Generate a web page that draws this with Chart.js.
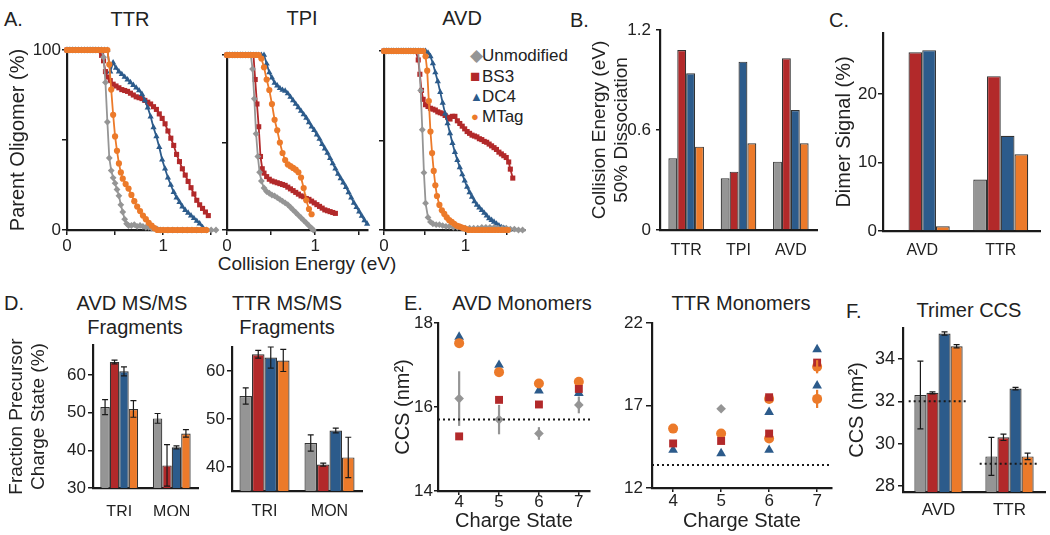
<!DOCTYPE html>
<html>
<head>
<meta charset="utf-8">
<title>Oligomer stability panels</title>
<script src="https://cdn.jsdelivr.net/npm/chart.js@4.4.1/dist/chart.umd.min.js"></script>
<style>
  html, body { margin: 0; padding: 0; background: #fff; }
  #fig { position: relative; width: 1050px; height: 535px; overflow: hidden;
         font-family: 'Liberation Sans', Arial, sans-serif; color: #222; }
  #fig canvas { position: absolute; }
  .c { position: absolute; transform: translate(-50%, -50%); white-space: nowrap; line-height: 1; font-size: 20px; }
  .w { position: absolute; transform: translateY(-50%); white-space: nowrap; line-height: 1; font-size: 20px; }
  .key { font-size: 17px; }
</style>
</head>
<body>
<div id="fig">
  <!-- panel letters and titles -->
  <div class="w" style="left:4px;top:19px">A.</div>
  <div class="c" style="left:130px;top:19px">TTR</div>
  <div class="c" style="left:302px;top:18px">TPI</div>
  <div class="c" style="left:462px;top:18px">AVD</div>
  <div class="c" style="left:307px;top:263px;font-size:19px">Collision Energy (eV)</div>

  <div class="w key" style="left:470px;top:55px;color:#959595">&#9670;</div>
  <div class="w key" style="left:482px;top:55px">Unmodified</div>
  <div class="w key" style="left:470px;top:76px;color:#b2292a">&#9632;</div>
  <div class="w key" style="left:482px;top:76px">BS3</div>
  <div class="w key" style="left:470px;top:96px;color:#2c5b8b;font-size:13px">&#9650;</div>
  <div class="w key" style="left:482px;top:96px">DC4</div>
  <div class="w key" style="left:471px;top:116px;color:#ec7a2a;font-size:13px">&#9679;</div>
  <div class="w key" style="left:482px;top:116px">MTag</div>

  <div class="w" style="left:570px;top:20px">B.</div>
  <div class="w" style="left:829px;top:20px">C.</div>

  <div class="w" style="left:4px;top:303px">D.</div>
  <div class="c" style="left:132px;top:303px">AVD MS/MS</div>
  <div class="c" style="left:135px;top:327px">Fragments</div>
  <div class="c" style="left:287px;top:303px">TTR MS/MS</div>
  <div class="c" style="left:287px;top:327px">Fragments</div>

  <div class="w" style="left:404px;top:303px">E.</div>
  <div class="c" style="left:522px;top:303px">AVD Monomers</div>
  <div class="c" style="left:741px;top:303px">TTR Monomers</div>

  <div class="w" style="left:846px;top:311px">F.</div>
  <div class="c" style="left:969px;top:310px">Trimer CCS</div>

  <canvas id="aTTR"></canvas>
  <canvas id="aTPI"></canvas>
  <canvas id="aAVD"></canvas>
  <canvas id="bDissoc"></canvas>
  <canvas id="cDimer"></canvas>
  <canvas id="dAVD"></canvas>
  <canvas id="dTTR"></canvas>
  <canvas id="eAVD"></canvas>
  <canvas id="eTTR"></canvas>
  <canvas id="fTrimer"></canvas>
</div>

<script>
/* ===============================
   DATA
================================ */

// A. collision induced unfolding curves: [energy eV, parent oligomer %]
const ttrUnmod = [[0,100],[0.03,100],[0.06,100],[0.09,100],[0.12,100],[0.15,100],[0.18,100],[0.21,100],[0.24,100],[0.27,100],[0.30,100],[0.33,100],[0.36,100],[0.38,96],[0.40,82],[0.42,60],[0.44,40],[0.46,33],[0.48,29],[0.50,26],[0.52,22.5],[0.54,19],[0.56,14],[0.58,10],[0.60,6],[0.62,3.5],[0.64,2.5],[0.67,2.5],[0.70,3],[0.73,2],[0.76,2.5],[0.79,2],[0.82,1.5],[0.85,1.5],[0.88,1],[0.91,1],[0.94,0.5],[0.97,0],[1.00,0],[1.05,0],[1.10,0],[1.15,0],[1.20,0],[1.25,0],[1.30,0],[1.35,0],[1.40,0],[1.45,0],[1.50,0],[1.55,0]];
const ttrBS3 = [[0,100],[0.03,100],[0.06,100],[0.09,100],[0.12,100],[0.15,100],[0.18,100],[0.21,100],[0.24,100],[0.27,100],[0.30,100],[0.33,100],[0.36,97],[0.38,94],[0.40,88],[0.42,85],[0.45,83],[0.48,81],[0.51,80],[0.54,79],[0.57,78],[0.60,77.5],[0.63,77],[0.66,76],[0.69,75],[0.72,74],[0.75,73.5],[0.78,73],[0.81,72],[0.84,71],[0.87,70],[0.90,68.5],[0.93,67],[0.96,64.5],[0.99,62],[1.02,59],[1.05,55],[1.08,51],[1.11,47],[1.14,42],[1.17,38],[1.20,34],[1.23,30.5],[1.26,27],[1.29,23.5],[1.32,20],[1.35,16.5],[1.38,14],[1.41,12],[1.44,10],[1.47,8]];
const ttrDC4 = [[0,100],[0.03,100],[0.06,100],[0.09,100],[0.12,100],[0.15,100],[0.18,100],[0.21,100],[0.24,100],[0.27,100],[0.30,100],[0.33,100],[0.36,100],[0.39,100],[0.42,100],[0.45,88],[0.48,93],[0.51,90],[0.54,88],[0.57,86.5],[0.60,85],[0.63,83.5],[0.66,82],[0.69,80.5],[0.72,79],[0.75,77.5],[0.78,75.5],[0.81,72],[0.84,68],[0.87,63],[0.90,57],[0.93,52],[0.96,46],[0.99,39],[1.02,34],[1.05,29],[1.08,25],[1.11,21],[1.14,18],[1.17,15.5],[1.20,13],[1.23,11],[1.26,9.5],[1.29,8],[1.32,6.5],[1.35,5],[1.38,3.5],[1.41,1.5],[1.43,0]];
const ttrMTag = [[0,100],[0.03,100],[0.06,100],[0.09,100],[0.12,100],[0.15,100],[0.18,100],[0.21,100],[0.24,100],[0.27,100],[0.30,100],[0.33,100],[0.36,100],[0.39,100],[0.42,100],[0.44,92],[0.46,78],[0.48,64],[0.50,52],[0.52,44],[0.54,37],[0.56,32],[0.58,28.5],[0.61,25.5],[0.64,23],[0.67,19.5],[0.70,16],[0.73,13],[0.76,10.5],[0.79,8],[0.82,6],[0.85,4],[0.88,2.5],[0.91,1],[0.94,0],[0.97,0],[1.00,0],[1.03,0],[1.06,0],[1.09,0],[1.12,0],[1.15,0],[1.18,0],[1.21,0],[1.24,0],[1.27,0],[1.30,0],[1.33,0],[1.36,0],[1.39,0],[1.42,0],[1.45,0]];

const tpiUnmod = [[0,100],[0.03,100],[0.06,100],[0.09,100],[0.12,100],[0.15,100],[0.18,100],[0.21,100],[0.24,100],[0.27,100],[0.29,92],[0.31,75],[0.33,55],[0.35,42],[0.37,33],[0.39,28],[0.42,24],[0.45,22],[0.48,21],[0.51,20],[0.54,19.5],[0.57,18.5],[0.60,17.5],[0.63,16.5],[0.66,15.5],[0.69,14.5],[0.72,13],[0.75,11.5],[0.78,10],[0.81,8.5],[0.84,7],[0.87,5.5],[0.90,4],[0.93,2.5],[0.96,1],[0.98,0]];
const tpiBS3 = [[0,100],[0.03,100],[0.06,100],[0.09,100],[0.12,100],[0.15,100],[0.18,100],[0.21,100],[0.24,100],[0.27,100],[0.30,100],[0.32,86],[0.34,72],[0.36,59],[0.38,42],[0.40,35],[0.42,32.5],[0.45,30.5],[0.48,29],[0.51,28],[0.54,27.5],[0.57,27],[0.60,26.5],[0.63,26],[0.66,25.5],[0.69,24.5],[0.72,23.5],[0.75,22.5],[0.78,21.5],[0.81,20.5],[0.84,19.5],[0.87,19],[0.90,18],[0.93,17.5],[0.96,16.5],[0.99,15.5],[1.02,14.5],[1.05,13.5],[1.08,12.5],[1.11,11.5],[1.14,11],[1.17,10.5],[1.20,10],[1.23,9.5]];
const tpiDC4 = [[0,100],[0.03,100],[0.06,100],[0.09,100],[0.12,100],[0.15,100],[0.18,100],[0.21,100],[0.24,100],[0.27,100],[0.30,100],[0.33,100],[0.36,100],[0.39,100],[0.42,100],[0.45,95],[0.48,90],[0.51,87],[0.54,84],[0.57,82.5],[0.60,81],[0.63,80],[0.66,79.5],[0.69,78],[0.72,76],[0.75,74],[0.78,72],[0.81,70],[0.84,68],[0.87,66],[0.90,64],[0.93,61.5],[0.96,59],[0.99,57],[1.02,54.5],[1.05,52],[1.08,49],[1.11,46.5],[1.14,44],[1.17,41],[1.20,38],[1.23,35],[1.26,32],[1.29,29.5],[1.32,27],[1.35,24.5],[1.38,21.5],[1.41,18.5],[1.44,15.5],[1.47,13],[1.50,10.5],[1.53,8],[1.56,5.5],[1.59,3.5]];
const tpiMTag = [[0,100],[0.03,100],[0.06,100],[0.09,100],[0.12,100],[0.15,100],[0.18,100],[0.21,100],[0.24,100],[0.27,100],[0.30,100],[0.33,100],[0.36,100],[0.39,98],[0.42,93],[0.45,86],[0.48,80],[0.51,72],[0.54,63],[0.57,57],[0.60,50],[0.63,44],[0.66,40],[0.69,37.5],[0.72,36.5],[0.75,35.5],[0.78,34.5],[0.81,33],[0.84,30],[0.87,24],[0.90,17],[0.93,12],[0.96,9]];

const avdUnmod = [[0,100],[0.03,100],[0.06,100],[0.09,100],[0.12,100],[0.15,100],[0.18,100],[0.21,100],[0.24,100],[0.27,100],[0.30,100],[0.33,100],[0.36,100],[0.39,100],[0.42,100],[0.45,78],[0.47,56],[0.49,32],[0.51,15],[0.54,7],[0.57,4.5],[0.60,3.5],[0.64,3],[0.68,3],[0.72,2.5],[0.76,2],[0.80,2],[0.85,1.5],[0.90,1.5],[0.95,1.5],[1.00,1],[1.05,1],[1.10,1],[1.15,1],[1.20,1.5],[1.25,1.5],[1.30,1.5],[1.35,1.5],[1.40,1],[1.45,1],[1.50,1],[1.55,0.5],[1.60,0.5],[1.65,0],[1.70,0]];
const avdBS3 = [[0,100],[0.03,100],[0.06,100],[0.09,100],[0.12,100],[0.15,100],[0.18,100],[0.21,100],[0.24,100],[0.27,100],[0.30,100],[0.33,100],[0.36,100],[0.39,100],[0.42,95],[0.44,87],[0.46,78],[0.48,73],[0.51,70],[0.54,69],[0.57,68],[0.60,67.5],[0.63,67],[0.66,66],[0.69,65.5],[0.72,65],[0.75,64],[0.78,63],[0.81,62],[0.84,63.5],[0.87,63.5],[0.90,61],[0.93,59.5],[0.96,58],[0.99,56.5],[1.02,55],[1.05,54],[1.08,53],[1.11,52.5],[1.14,52],[1.17,51],[1.20,50.5],[1.23,49.5],[1.26,49],[1.29,48],[1.32,47],[1.35,46],[1.38,45],[1.41,43.5],[1.44,42.5],[1.47,41.5],[1.50,40.5],[1.53,38],[1.55,34],[1.58,29]];
const avdDC4 = [[0,100],[0.03,100],[0.06,100],[0.09,100],[0.12,100],[0.15,100],[0.18,100],[0.21,100],[0.24,100],[0.27,100],[0.30,100],[0.33,100],[0.36,100],[0.39,100],[0.42,100],[0.45,100],[0.48,100],[0.51,100],[0.54,99],[0.57,97],[0.60,93],[0.63,88],[0.66,83],[0.69,77],[0.72,71],[0.75,65],[0.78,59.5],[0.81,54],[0.84,48.5],[0.87,43.5],[0.90,39],[0.93,35],[0.96,31],[0.99,27.5],[1.02,24],[1.05,21],[1.08,18.5],[1.11,16],[1.14,14],[1.17,12.5],[1.20,11],[1.23,9.5],[1.26,8],[1.29,6.5],[1.32,5.5],[1.35,4.5],[1.38,3.5],[1.41,2.5],[1.44,1.5],[1.47,1],[1.50,0.5],[1.53,0]];
const avdMTag = [[0,100],[0.03,100],[0.06,100],[0.09,100],[0.12,100],[0.15,100],[0.18,100],[0.21,100],[0.24,100],[0.27,100],[0.30,100],[0.33,100],[0.36,100],[0.39,100],[0.42,100],[0.45,100],[0.48,100],[0.51,97],[0.53,89],[0.55,72],[0.57,55],[0.59,43],[0.61,33],[0.63,25],[0.65,19],[0.68,14],[0.71,11],[0.74,9],[0.77,7],[0.80,5.5],[0.83,4.5],[0.86,3.5],[0.89,2.5],[0.92,2],[0.95,1.5],[0.98,1],[1.01,0.5],[1.04,0],[1.08,0],[1.12,0],[1.16,0],[1.20,0],[1.24,0],[1.28,0],[1.32,0],[1.36,0],[1.40,0],[1.44,0],[1.48,0],[1.52,0]];

const energyTicks = [0, 0.5, 1, 1.5];
const energyLabelled = [0, 1];
const percentTicks = [0, 50, 100];

// B. collision energy at 50% dissociation (eV)
const dissocCats = ['TTR', 'TPI', 'AVD'];
const dissocUnmod = [0.43, 0.31, 0.41];
const dissocBS3 = [1.08, 0.35, 1.03];
const dissocDC4 = [0.94, 1.01, 0.72];
const dissocMTag = [0.50, 0.52, 0.52];
const dissocTicks = [0, 0.6, 1.2];

// C. dimer signal (%)
const dimerCats = ['AVD', 'TTR'];
const dimerUnmod = [0, 7.5];
const dimerBS3 = [26.1, 22.6];
const dimerDC4 = [26.4, 13.9];
const dimerMTag = [0.7, 11.2];
const dimerTicks = [0, 10, 20];

// D. MS/MS fragments, fraction precursor charge state (%)
const fragCats = ['TRI', 'MON'];
const avdFragUnmod = [51.5, 48.5], avdFragUnmodErr = [2.0, 1.3];
const avdFragBS3 = [63.5, 36.0], avdFragBS3Err = [0.5, 5.5];
const avdFragDC4 = [61.0, 40.8], avdFragDC4Err = [1.2, 0.4];
const avdFragMTag = [51.0, 44.5], avdFragMTagErr = [2.2, 1.0];
const avdFragTicks = [30, 40, 50, 60];
const ttrFragUnmod = [54.8, 45.0], ttrFragUnmodErr = [1.7, 1.7];
const ttrFragBS3 = [63.5, 40.5], ttrFragBS3Err = [0.8, 0.3];
const ttrFragDC4 = [62.8, 47.6], ttrFragDC4Err = [2.2, 0.5];
const ttrFragMTag = [62.2, 42.0], ttrFragMTagErr = [2.3, 4.2];
const ttrFragTicks = [40, 50, 60];

// E. monomer CCS (nm2) by charge state
const chargeTicks = [4, 5, 6, 7];
const avdCharge = [4, 5, 6, 7];
const avdMonoUnmod = [16.2, 15.7, 15.37, 16.05], avdMonoUnmodErr = [0.65, 0.35, 0.15, 0.2];
const avdMonoBS3 = [15.3, 16.17, 16.06, 16.43];
const avdMonoDC4 = [17.67, 17.0, 16.39, 16.33];
const avdMonoMTag = [17.52, 16.83, 16.56, 16.6];
const avdMonoRef = [15.7];
const avdMonoTicks = [14, 16, 18];

const ttrChargeUnmod = [5], ttrMonoUnmod = [16.8];
const ttrChargeBS3 = [4, 5, 6, 6, 7], ttrMonoBS3 = [14.7, 14.85, 17.5, 15.3, 19.6];
const ttrChargeDC4 = [4, 5, 6, 6, 7, 7], ttrMonoDC4 = [14.3, 14.1, 16.6, 14.3, 20.4, 18.2];
const ttrChargeMTag = [4, 5, 6, 6, 7, 7], ttrMonoMTag = [15.6, 15.3, 17.4, 15.0, 19.35, 17.4];
const ttrMonoMTagErr = [0, 0, 0, 0, 0.4, 0.55];
const ttrMonoRef = [13.4];
const ttrMonoTicks = [12, 17, 22];

// F. trimer CCS (nm2)
const trimerCats = ['AVD', 'TTR'];
const trimerUnmod = [32.3, 29.4], trimerUnmodErr = [1.6, 0.9];
const trimerBS3 = [32.4, 30.3], trimerBS3Err = [0.05, 0.15];
const trimerDC4 = [35.2, 32.6], trimerDC4Err = [0.08, 0.06];
const trimerMTag = [34.6, 29.4], trimerMTagErr = [0.08, 0.15];
const trimerRef = [32.0, 29.05];
const trimerTicks = [28, 30, 32, 34];

/* ===============================
   STYLE + PLUGINS
================================ */

const colors = { unmod: '#959595', bs3: '#b2292a', dc4: '#2c5b8b', mtag: '#ec7a2a' };
const ink = '#1a1a1a';

Chart.defaults.font.family = "'Liberation Sans', Arial, sans-serif";
Chart.defaults.color = '#222';
Chart.defaults.animation = false;
Chart.defaults.responsive = false;
Chart.defaults.plugins.legend.display = false;
Chart.defaults.plugins.tooltip.enabled = false;

// vertical error bars from dataset.errors, drawn through the y scale
const errorBars = {
  id: 'errorBars',
  afterDatasetsDraw(chart) {
    const ctx = chart.ctx;
    const yScale = chart.scales.y;
    chart.data.datasets.forEach((ds, i) => {
      if (!ds.errors) return;
      const meta = chart.getDatasetMeta(i);
      ctx.save();
      ctx.strokeStyle = ds.errorColor || ink;
      ctx.lineWidth = ds.errorWidth || 1.2;
      meta.data.forEach((el, j) => {
        const e = ds.errors[j];
        if (!e) return;
        const raw = ds.data[j];
        const v = typeof raw === 'object' ? raw.y : raw;
        const top = yScale.getPixelForValue(v + e);
        const bot = yScale.getPixelForValue(v - e);
        const cap = ds.errorCap || 0;
        ctx.beginPath();
        ctx.moveTo(el.x, top);
        ctx.lineTo(el.x, bot);
        if (cap) {
          ctx.moveTo(el.x - cap, top); ctx.lineTo(el.x + cap, top);
          ctx.moveTo(el.x - cap, bot); ctx.lineTo(el.x + cap, bot);
        }
        ctx.stroke();
      });
      ctx.restore();
    });
  }
};

// dotted reference lines (whole plot, or one per category)
const refLines = {
  id: 'refLines',
  afterDatasetsDraw(chart, args, opts) {
    if (!opts.values) return;
    const { ctx, chartArea } = chart;
    const xs = chart.scales.x, ys = chart.scales.y;
    ctx.save();
    ctx.setLineDash([2, 3]);
    ctx.lineWidth = 2;
    ctx.strokeStyle = ink;
    opts.values.forEach((v, i) => {
      const py = ys.getPixelForValue(v);
      let x0 = chartArea.left, x1 = chartArea.right;
      if (opts.spread) {
        const c = xs.getPixelForValue(i);
        const half = (chartArea.right - chartArea.left) / opts.values.length * opts.spread;
        x0 = c - half; x1 = c + half;
      }
      ctx.beginPath();
      ctx.moveTo(x0, py);
      ctx.lineTo(x1, py);
      ctx.stroke();
    });
    ctx.restore();
  }
};

Chart.register(errorBars, refLines);

/* ===============================
   HELPERS
================================ */

// area = wanted plot box in page pixels, m = room around it for axes
function makeChart(id, area, m, config) {
  const canvas = document.getElementById(id);
  canvas.width = area.r - area.l + m.l + m.r;
  canvas.height = area.b - area.t + m.t + m.b;
  canvas.style.left = (area.l - m.l) + 'px';
  canvas.style.top = (area.t - m.t) + 'px';
  const o = config.options;
  o.layout = { padding: { left: 0, top: m.t, right: m.r, bottom: 0 } };
  o.scales.x.afterFit = s => { s.height = m.b; };
  o.scales.y.afterFit = s => { s.width = m.l; };
  return new Chart(canvas, config);
}

function valueAxis(o) {
  return {
    type: 'linear',
    min: o.min,
    max: o.max,
    afterBuildTicks: s => { s.ticks = o.ticks.map(v => ({ value: v })); },
    ticks: {
      color: '#222', font: { size: o.font || 17 }, padding: o.pad,
      autoSkip: false, maxRotation: 0,
      callback: o.label || (v => v)
    },
    grid: { display: true, drawOnChartArea: false, drawTicks: true, tickLength: o.len, color: ink, lineWidth: 1.5 },
    border: { display: true, color: ink, width: 2.2 },
    title: o.title
      ? { display: true, text: o.title, color: '#222', font: { size: o.titleSize || 20 }, padding: o.titlePad }
      : { display: false }
  };
}

function catAxis(o) {
  return {
    type: 'category',
    offset: true,
    ticks: { color: '#222', font: { size: o.font || 16 }, padding: o.pad, autoSkip: false, maxRotation: 0 },
    grid: { display: false },
    border: { display: true, color: ink, width: 2.2 }
  };
}

function curve(pts, color, style, radius, order) {
  return {
    data: pts.map(p => ({ x: p[0], y: p[1] })),
    borderColor: color,
    borderWidth: 1.8,
    pointBackgroundColor: color,
    pointBorderColor: color,
    pointBorderWidth: 0,
    pointStyle: style,
    pointRadius: radius,
    tension: 0,
    clip: false,
    order
  };
}

function cieChart(id, area, marginLeft, sets, opts) {
  return makeChart(id, area, { l: marginLeft, t: 16, r: 10, b: 28 }, {
    type: 'line',
    data: {
      datasets: [
        curve(sets[0], colors.unmod, 'rectRot', 3.4, 1),
        curve(sets[1], colors.bs3, 'rect', 3.6, 3),
        curve(sets[2], colors.dc4, 'triangle', 3.6, 2),
        curve(sets[3], colors.mtag, 'circle', 3.1, 0)
      ]
    },
    options: {
      scales: {
        x: valueAxis({ min: 0, max: opts.xMax, ticks: energyTicks, len: 5, pad: 1,
          label: v => energyLabelled.includes(v) ? String(v) : '' }),
        y: valueAxis({ min: 0, max: 100, ticks: percentTicks, len: 5, pad: 1,
          label: opts.yLabels ? (v => v === 50 ? '' : v) : () => '',
          title: opts.yTitle, titlePad: { top: 6 } })
      }
    }
  });
}

function barSet(data, color, pct, errors) {
  return {
    data,
    backgroundColor: color,
    borderColor: '#333',
    borderWidth: 1.2,
    barPercentage: 1,
    categoryPercentage: pct,
    errors,
    errorCap: 3
  };
}

function points(xs, ys, color, style, radius, errors) {
  return {
    data: xs.map((x, i) => ({ x, y: ys[i] })),
    backgroundColor: color,
    borderColor: color,
    borderWidth: 0,
    pointStyle: style,
    pointRadius: radius,
    clip: false,
    errors,
    errorColor: color,
    errorWidth: 2.2
  };
}

/* ===============================
   A. UNFOLDING CURVES
================================ */

cieChart('aTTR', { l: 67, t: 50, r: 216, b: 230 }, 67,
  [ttrUnmod, ttrBS3, ttrDC4, ttrMTag],
  { xMax: 1.55, yLabels: true, yTitle: 'Parent Oligomer (%)' });

cieChart('aTPI', { l: 227, t: 55, r: 368, b: 230 }, 8,
  [tpiUnmod, tpiBS3, tpiDC4, tpiMTag],
  { xMax: 1.6, yLabels: false });

cieChart('aAVD', { l: 384, t: 51, r: 525, b: 230 }, 8,
  [avdUnmod, avdBS3, avdDC4, avdMTag],
  { xMax: 1.73, yLabels: false });

/* ===============================
   B. 50% DISSOCIATION
================================ */

makeChart('bDissoc', { l: 660, t: 30, r: 817, b: 230 }, { l: 80, t: 16, r: 8, b: 26 }, {
  type: 'bar',
  data: {
    labels: dissocCats,
    datasets: [
      barSet(dissocUnmod, colors.unmod, 0.68),
      barSet(dissocBS3, colors.bs3, 0.68),
      barSet(dissocDC4, colors.dc4, 0.68),
      barSet(dissocMTag, colors.mtag, 0.68)
    ]
  },
  options: {
    scales: {
      x: catAxis({ pad: 3, font: 16 }),
      y: valueAxis({ min: 0, max: 1.2, ticks: dissocTicks, len: 4, pad: 5,
        label: v => v === 0 ? '0' : v.toFixed(1),
        title: ['Collision Energy (eV)', '50% Dissociation'], titleSize: 19, titlePad: { top: 8 } })
    }
  }
});

/* ===============================
   C. DIMER SIGNAL
================================ */

makeChart('cDimer', { l: 883, t: 33, r: 1040, b: 231 }, { l: 55, t: 16, r: 8, b: 26 }, {
  type: 'bar',
  data: {
    labels: dimerCats,
    datasets: [
      barSet(dimerUnmod, colors.unmod, 0.7),
      barSet(dimerBS3, colors.bs3, 0.7),
      barSet(dimerDC4, colors.dc4, 0.7),
      barSet(dimerMTag, colors.mtag, 0.7)
    ]
  },
  options: {
    scales: {
      x: catAxis({ pad: 2, font: 16 }),
      y: valueAxis({ min: 0, max: 28.9, ticks: dimerTicks, len: 5, pad: 1,
        title: 'Dimer Signal (%)', titlePad: { top: 4 } })
    }
  }
});

/* ===============================
   D. MS/MS FRAGMENTS
================================ */

makeChart('dAVD', { l: 93, t: 345, r: 198, b: 488 }, { l: 93, t: 16, r: 6, b: 28 }, {
  type: 'bar',
  data: {
    labels: fragCats,
    datasets: [
      barSet(avdFragUnmod, colors.unmod, 0.72, avdFragUnmodErr),
      barSet(avdFragBS3, colors.bs3, 0.72, avdFragBS3Err),
      barSet(avdFragDC4, colors.dc4, 0.72, avdFragDC4Err),
      barSet(avdFragMTag, colors.mtag, 0.72, avdFragMTagErr)
    ]
  },
  options: {
    scales: {
      x: catAxis({ pad: 7, font: 16 }),
      y: valueAxis({ min: 30, max: 68, ticks: avdFragTicks, len: 5, pad: 2, font: 17,
        title: ['Fraction Precursor', 'Charge State (%)'], titleSize: 19, titlePad: { top: 5 } })
    }
  }
});

makeChart('dTTR', { l: 232, t: 347, r: 362, b: 491 }, { l: 32, t: 16, r: 8, b: 28 }, {
  type: 'bar',
  data: {
    labels: fragCats,
    datasets: [
      barSet(ttrFragUnmod, colors.unmod, 0.77, ttrFragUnmodErr),
      barSet(ttrFragBS3, colors.bs3, 0.77, ttrFragBS3Err),
      barSet(ttrFragDC4, colors.dc4, 0.77, ttrFragDC4Err),
      barSet(ttrFragMTag, colors.mtag, 0.77, ttrFragMTagErr)
    ]
  },
  options: {
    scales: {
      x: catAxis({ pad: 3, font: 16 }),
      y: valueAxis({ min: 35, max: 65, ticks: ttrFragTicks, len: 5, pad: 2, font: 17 })
    }
  }
});

/* ===============================
   E. MONOMER CCS
================================ */

function chargeAxis(min, max, pad) {
  const ax = valueAxis({ min, max, ticks: chargeTicks, len: 4, pad, font: 17 });
  ax.title = { display: true, text: 'Charge State', color: '#222', font: { size: 20 }, padding: { top: 0, bottom: 0 } };
  return ax;
}

makeChart('eAVD', { l: 438, t: 323, r: 590, b: 491 }, { l: 53, t: 16, r: 8, b: 42 }, {
  type: 'scatter',
  data: {
    datasets: [
      points(avdCharge, avdMonoUnmod, colors.unmod, 'rectRot', 4.8, avdMonoUnmodErr),
      points(avdCharge, avdMonoBS3, colors.bs3, 'rect', 5.6),
      points(avdCharge, avdMonoMTag, colors.mtag, 'circle', 5),
      points(avdCharge, avdMonoDC4, colors.dc4, 'triangle', 5.6)
    ]
  },
  options: {
    plugins: { refLines: { values: avdMonoRef } },
    scales: {
      x: chargeAxis(3.47, 7.28, -3),
      y: valueAxis({ min: 14, max: 18, ticks: avdMonoTicks, len: 4, pad: 1,
        title: 'CCS (nm\u00B2)', titlePad: { top: 6 } })
    }
  }
});

makeChart('eTTR', { l: 652, t: 323, r: 832, b: 488 }, { l: 40, t: 16, r: 8, b: 45 }, {
  type: 'scatter',
  data: {
    datasets: [
      points(ttrChargeUnmod, ttrMonoUnmod, colors.unmod, 'rectRot', 4.8),
      points(ttrChargeBS3, ttrMonoBS3, colors.bs3, 'rect', 5.6),
      points(ttrChargeMTag, ttrMonoMTag, colors.mtag, 'circle', 5, ttrMonoMTagErr),
      points(ttrChargeDC4, ttrMonoDC4, colors.dc4, 'triangle', 5.6)
    ]
  },
  options: {
    plugins: { refLines: { values: ttrMonoRef } },
    scales: {
      x: chargeAxis(3.56, 7.31, -1),
      y: valueAxis({ min: 12, max: 22, ticks: ttrMonoTicks, len: 6, pad: 3 })
    }
  }
});

/* ===============================
   F. TRIMER CCS
================================ */

makeChart('fTrimer', { l: 903, t: 328, r: 1045, b: 492 }, { l: 58, t: 16, r: 5, b: 26 }, {
  type: 'bar',
  data: {
    labels: trimerCats,
    datasets: [
      barSet(trimerUnmod, colors.unmod, 0.68, trimerUnmodErr),
      barSet(trimerBS3, colors.bs3, 0.68, trimerBS3Err),
      barSet(trimerDC4, colors.dc4, 0.68, trimerDC4Err),
      barSet(trimerMTag, colors.mtag, 0.68, trimerMTagErr)
    ]
  },
  options: {
    plugins: { refLines: { values: trimerRef, spread: 0.42 } },
    scales: {
      x: catAxis({ pad: 0, font: 17 }),
      y: valueAxis({ min: 27.72, max: 35.46, ticks: trimerTicks, len: 5, pad: 3, font: 18,
        title: 'CCS (nm\u00B2)', titlePad: { top: 0 } })
    }
  }
});
</script>
</body>
</html>
